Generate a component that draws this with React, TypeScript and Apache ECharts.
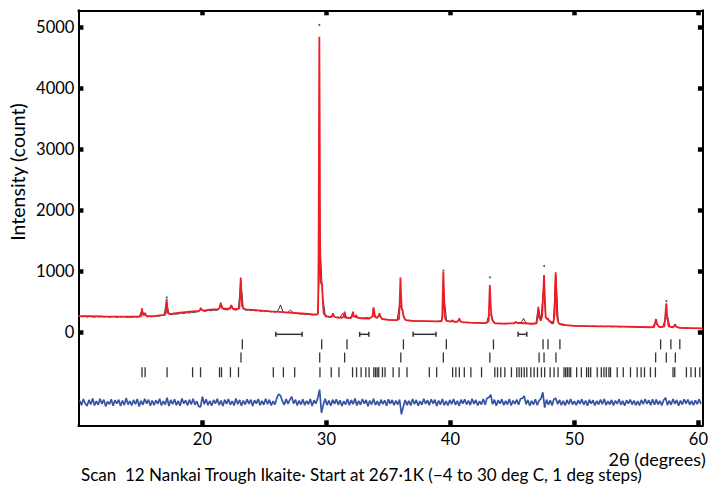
import React, { useEffect, useRef } from "react";
import * as echarts from "echarts";

// ---- axis ticks ----
const X_TICKS = [20, 30, 40, 50, 60];
const Y_TICKS = [0, 1000, 2000, 3000, 4000, 5000];

// ---- calculated profile (2θ, counts) ----
const calcProfile: number[][] = [
  [10.0, 268], [11, 265], [12, 262], [13, 260], [14, 258], [14.95, 258],
  [15.05, 265], [15.09, 330], [15.13, 394], [15.17, 320], [15.25, 280], [15.33, 300], [15.37, 322], [15.42, 285], [15.55, 265],
  [16.2, 272], [16.95, 288],
  [17.04, 310], [17.08, 430], [17.12, 545], [17.16, 430], [17.22, 320], [17.4, 300],
  [18.0, 320], [19.0, 340], [19.72, 352],
  [19.8, 365], [19.87, 404], [19.93, 372], [20.05, 358],
  [20.6, 372], [21.25, 383],
  [21.38, 395], [21.44, 455], [21.48, 486], [21.52, 445], [21.6, 395],
  [21.95, 388],
  [22.24, 392], [22.29, 430], [22.33, 449], [22.37, 425], [22.45, 390],
  [22.85, 383],
  [22.98, 395], [23.04, 640], [23.09, 900], [23.14, 640], [23.2, 430], [23.32, 388], [23.5, 378],
  [24.5, 362], [25.5, 345], [26.2, 337], [27.0, 325], [28.0, 310], [28.8, 298], [29.25, 292],
  [29.33, 320], [29.37, 1300], [29.41, 3900], [29.43, 4840], [29.46, 3400], [29.49, 1500], [29.53, 850], [29.58, 800], [29.65, 790], [29.71, 520], [29.78, 310], [29.95, 265],
  [30.4, 252],
  [30.48, 280], [30.53, 313], [30.58, 275], [30.7, 250],
  [31.25, 240],
  [31.4, 262], [31.47, 339], [31.53, 265], [31.68, 238],
  [31.98, 236],
  [32.08, 268], [32.14, 339], [32.2, 268], [32.3, 250], [32.37, 270], [32.41, 285], [32.47, 248],
  [32.8, 232], [33.45, 228],
  [33.72, 262], [33.77, 370], [33.8, 411], [33.84, 360], [33.92, 252], [34.1, 240],
  [34.22, 272], [34.28, 313], [34.34, 262], [34.5, 218],
  [35.0, 207], [35.65, 200],
  [35.86, 222], [35.92, 560], [35.97, 900], [36.02, 610], [36.08, 385], [36.14, 367], [36.22, 262], [36.4, 200],
  [37.0, 188], [38.0, 184], [39.0, 180], [39.28, 182],
  [39.34, 232], [39.39, 700], [39.43, 994], [39.48, 680], [39.54, 265], [39.65, 195],
  [40.05, 176], [40.13, 192], [40.18, 203], [40.23, 182],
  [40.55, 172], [40.66, 200], [40.72, 231], [40.78, 186], [40.9, 170],
  [41.5, 162], [42.2, 157], [42.85, 152],
  [43.08, 182], [43.14, 560], [43.18, 776], [43.23, 520], [43.29, 300], [43.38, 200], [43.6, 150],
  [44.3, 145], [45.12, 150], [45.22, 164], [45.27, 175], [45.33, 158],
  [46.0, 150], [46.6, 142], [46.95, 150],
  [47.02, 250], [47.09, 421], [47.15, 255], [47.28, 192], [47.4, 265], [47.5, 700], [47.55, 940], [47.6, 650], [47.68, 245], [47.8, 215], [47.87, 231], [47.93, 190],
  [48.3, 160],
  [48.4, 300], [48.45, 800], [48.49, 984], [48.54, 700], [48.6, 262], [48.66, 203], [48.75, 145],
  [49.3, 118], [50.0, 108], [51.0, 104], [52.0, 100], [53.0, 98], [54.0, 95], [55.0, 90], [56.0, 85], [56.42, 86],
  [56.52, 170], [56.58, 219], [56.64, 150], [56.8, 90],
  [57.25, 95], [57.34, 300], [57.41, 476], [57.47, 290], [57.6, 100],
  [57.95, 82], [58.09, 120], [58.13, 133], [58.18, 95],
  [58.5, 75], [59.3, 70], [60.36, 66],
];

// ---- observed counts, sampled every 0.2° from 10.1° ----
const OBS_START = 10.1;
const OBS_STEP = 0.2;
const observedCounts = [
  262, 255, 270, 250, 266, 258, 248, 263, 252, 259,
  250, 261, 247, 256, 263, 244, 258, 251, 260, 246,
  252, 245, 259, 248, 256, 350, 310, 258, 262, 255,
  262, 270, 265, 279, 276, 500, 300, 292, 303, 298,
  305, 318, 310, 322, 315, 330, 326, 335, 338, 390,
  345, 350, 362, 355, 368, 360, 372, 465, 375, 370,
  368, 437, 372, 365, 378, 840, 390, 362, 370, 358,
  365, 352, 360, 345, 356, 340, 348, 335, 342, 330,
  360, 450, 335, 322, 330, 365, 330, 318, 310, 302,
  305, 298, 296, 290, 285, 288, 300, 1350, 580, 290,
  258, 250, 295, 248, 240, 242, 310, 236, 238, 232,
  300, 255, 240, 235, 228, 232, 245, 225, 255, 290,
  232, 296, 222, 218, 210, 205, 202, 200, 198, 450,
  370, 215, 196, 190, 192, 186, 188, 182, 185, 180,
  184, 178, 182, 176, 180, 185, 195, 540, 190, 175,
  186, 172, 170, 220, 168, 165, 162, 166, 158, 160,
  155, 158, 150, 154, 148, 280, 290, 152, 146, 148,
  142, 146, 140, 148, 145, 150, 168, 152, 160, 228,
  150, 145, 140, 138, 150, 400, 200, 720, 235, 215,
  150, 140, 930, 160, 125, 118, 120, 112, 115, 108,
  110, 104, 108, 100, 106, 102, 98, 104, 100, 96,
  102, 98, 95, 100, 96, 92, 98, 94, 90, 96,
  92, 95, 88, 92, 86, 90, 84, 88, 85, 82,
  85, 80, 160, 125, 82, 88, 190, 260, 95, 80,
  128, 85, 76, 78, 72, 75, 70, 72, 68, 70,
  66, 68,
];
// isolated observed points standing above the calculated peak tops
const observedPeakTops: number[][] = [
  [17.12, 572], [29.43, 5032], [39.43, 1010], [43.18, 902], [47.55, 1087], [57.41, 514],
];

// ---- difference (obs − calc), sampled every 0.15° from 10.1° ----
const DIFF_START = 10.1;
const DIFF_STEP = 0.15;
const DIFF_OFFSET = -1145;
const differenceCounts = [
  30, -45, 55, -20, -60, 40, -35, 65, -50, 20,
  -40, 60, -25, 45, -65, 15, -30, 50, -55, 35,
  -20, 45, -60, 30, -45, 70, -35, 20, -50, 40,
  -30, 55, -65, 25, -40, 60, -20, 45, -55, 30,
  -45, 35, -25, 60, -50, 20, -35, 75, -60, 40,
  -30, 50, -45, 25, -55, 65, -20, 35, -50, 45,
  -35, 60, -40, 20, -65, -75, 95, -30, 50, -45,
  25, -55, 40, -20, 60, -45, 30, -60, 45, -25,
  55, -40, 20, -50, 65, -30, 40, -55, 30, -35,
  50, -25, 45, -60, 35, -20, 55, -45, 25, -40,
  60, -30, 45, -50, 20, -35, 70, 135, 110, 20,
  -40, 55, -25, 40, 95, -20, 45, -50, 30, -35,
  50, -45, 25, -30, 55, -60, 35, -20, 70, 210,
  -170, -40, 60, -45, 30, -55, 45, -25, 50, -40,
  35, -60, 20, -35, 55, -45, 40, -30, 65, -50,
  25, -40, 55, -20, 40, -65, 30, -35, 60, -45,
  20, -50, 45, -30, 35, -55, 50, -25, 40, -45,
  30, -35, 45, -195, -70, 40, -45, 25, -50, 55,
  -30, 40, -55, 20, -40, 60, -25, 35, -45, 50,
  -20, 45, -60, 30, -35, 55, -45, 20, -50, 40,
  -30, 55, -40, 25, -55, 45, -20, 50, -35, 30,
  -45, 60, -25, 40, -50, 20, -35, 55, -40, 70,
  80, 125, -30, 45, -55, 35, -20, 50, -45, 25,
  -35, 55, -50, 30, -25, 45, -40, 60, 65, 105,
  -30, 40, -55, 25, -35, 50, -45, 30, 60, 165,
  -85, 45, -40, 35, -50, 55, 65, -30, 40, -45,
  25, -50, 40, -30, 55, -35, 20, -45, 35, -25,
  50, -40, 30, -55, 45, -20, 35, -50, 25, -35,
  45, -30, 55, -45, 20, -35, 40, -50, 30, -25,
  50, -40, 25, -55, 35, -20, 45, -35, 30, -45,
  20, -50, 40, -30, 55, -25, 35, -45, 50, -40,
  45, -35, 25, -50, 40, 75, -45, 30, -40, 55,
  -25, 40, -55, 30, -35, 50, -20, 45, -40, 25,
  -45, 35, -30, 50, -25,
];

// ---- reflection markers (2θ) ----
const phase1Reflections = [23.22, 29.62, 31.66, 36.21, 39.67, 43.47, 47.47, 47.87, 48.83, 56.95, 57.78, 58.5];
const phase2Reflections = [23.11, 29.46, 31.47, 36.0, 39.43, 43.18, 47.15, 47.55, 48.51, 56.55, 57.41, 58.14];
const phase3Reflections = [
  15.13, 15.38, 17.15, 19.21, 19.85, 21.38, 21.54, 22.26, 22.91, 25.72, 26.53, 27.44, 29.48, 30.39, 31.01,
  32.11, 32.43, 32.8, 33.18, 33.44, 33.82, 33.96, 34.09, 34.22, 34.52, 34.73, 35.38, 35.86, 36.5,
  38.3, 38.89, 40.18, 40.44, 40.72, 41.12, 41.65, 42.51, 43.58, 43.8, 44.06, 44.39, 44.92, 45.35, 45.54,
  45.73, 45.95, 46.16, 46.48, 46.75, 47.02, 47.34, 47.6, 48.04, 48.36, 48.68, 49.16, 49.29, 49.43, 49.57,
  49.7, 50.18, 50.56, 50.98, 51.14, 51.31, 51.84, 52.17, 52.38, 52.57, 52.78, 52.91, 53.45, 53.94, 54.52,
  55.06, 55.38, 55.65, 56.13, 56.53, 57.95, 58.09, 59.03, 59.4, 59.75, 60.11,
];
const REFLECTION_ROWS = [-195, -411, -652];

// ---- excluded regions (start, end) ----
const excludedRegions: number[][] = [
  [25.92, 28.04], [32.68, 33.42], [36.99, 38.84], [45.46, 46.16],
];
const EXCLUDED_LEVEL = -31;

const FONT = "Lato, 'Noto Sans', sans-serif";

export default function App() {
  const ref = useRef<HTMLDivElement>(null);

  useEffect(() => {
    if (!ref.current) return;
    const chart = echarts.init(ref.current, null, { renderer: "svg" });

    const obsData = observedCounts.map((v, i) => [OBS_START + i * OBS_STEP, v]);
    const diffData = differenceCounts.map((v, i) => [DIFF_START + i * DIFF_STEP, DIFF_OFFSET + v]);

    const tickStyle = { show: true, inside: true, length: 5, lineStyle: { color: "#000", width: 4.5 } };
    const lineStyle = { show: true, onZero: false, lineStyle: { color: "#000", width: 2 } };
    const plain = (v: number) => String(v);

    const markerSeries = [phase1Reflections, phase2Reflections, phase3Reflections].map((arr, r) => ({
      type: "scatter",
      symbol: "rect",
      symbolSize: [1.3, 10],
      itemStyle: { color: "#000" },
      silent: true,
      data: arr.map((d) => [d, REFLECTION_ROWS[r]]),
      z: 3,
    }));

    const option: any = {
      animation: false,
      backgroundColor: "#fff",
      grid: { left: 78.4, top: 10.3, width: 626.1, height: 415, containLabel: false },
      xAxis: [
        {
          type: "value", min: 10, max: 60.36, position: "bottom",
          axisLine: lineStyle,
          axisTick: { ...tickStyle, customValues: X_TICKS },
          axisLabel: { customValues: X_TICKS, formatter: plain, color: "#000", fontFamily: FONT, fontSize: 16.5, margin: 5 },
          splitLine: { show: false },
        },
        {
          type: "value", min: 10, max: 60.36, position: "top",
          axisLine: lineStyle,
          axisTick: { ...tickStyle, customValues: X_TICKS },
          axisLabel: { show: false },
          splitLine: { show: false },
        },
      ],
      yAxis: [
        {
          type: "value", min: -1520, max: 5272, position: "left",
          axisLine: lineStyle,
          axisTick: { ...tickStyle, customValues: Y_TICKS },
          axisLabel: { customValues: Y_TICKS, formatter: plain, color: "#000", fontFamily: FONT, fontSize: 16.5, margin: 4 },
          splitLine: { show: false },
        },
        {
          type: "value", min: -1520, max: 5272, position: "right",
          axisLine: lineStyle,
          axisTick: { ...tickStyle, customValues: Y_TICKS },
          axisLabel: { show: false },
          splitLine: { show: false },
        },
      ],
      series: [
        {
          type: "line", name: "observed", data: obsData, showSymbol: false, silent: true,
          lineStyle: { color: "#222", width: 0.9 }, z: 2,
        },
        {
          type: "scatter", name: "observed tops", data: observedPeakTops, symbolSize: 2, silent: true,
          itemStyle: { color: "#333" }, z: 2,
        },
        {
          type: "line", name: "calculated", data: calcProfile, showSymbol: false, silent: true,
          lineStyle: { color: "#ee1c25", width: 1.8 }, z: 4,
        },
        {
          type: "line", name: "difference", data: diffData, showSymbol: false, silent: true,
          lineStyle: { color: "#3653a4", width: 1.7 }, z: 2,
        },
        ...markerSeries,
        {
          type: "custom", name: "excluded", silent: true, z: 3,
          data: excludedRegions.map(([a, b]) => [a, b, EXCLUDED_LEVEL]),
          encode: { x: [0, 1], y: 2 },
          renderItem: (params: any, api: any) => {
            const p0 = api.coord([api.value(0), api.value(2)]);
            const p1 = api.coord([api.value(1), api.value(2)]);
            const st = { stroke: "#333", lineWidth: 1.5 };
            return {
              type: "group",
              children: [
                { type: "line", shape: { x1: p0[0], y1: p0[1], x2: p1[0], y2: p1[1] }, style: st },
                { type: "line", shape: { x1: p0[0], y1: p0[1] - 2.5, x2: p0[0], y2: p0[1] + 2.5 }, style: st },
                { type: "line", shape: { x1: p1[0], y1: p1[1] - 2.5, x2: p1[0], y2: p1[1] + 2.5 }, style: st },
              ],
            };
          },
        },
      ],
      graphic: [
        {
          type: "text", x: 17, y: 172, rotation: Math.PI / 2,
          style: { text: "Intensity (count)", font: `19.5px ${FONT}`, fill: "#000", align: "center", verticalAlign: "middle", textAlign: "center", textVerticalAlign: "middle" },
        },
        {
          type: "text", right: 6, top: 450,
          style: { text: "2θ (degrees)", font: `18px ${FONT}`, fill: "#000" },
        },
        {
          type: "text", left: 81, top: 466,
          style: { text: "Scan  12 Nankai Trough Ikaite· Start at 267·1K (−4 to 30 deg C, 1 deg steps)", font: `17px ${FONT}`, fill: "#000" },
        },
      ],
    };

    chart.setOption(option);
    return () => chart.dispose();
  }, []);

  return (
    <div
      ref={ref}
      style={{ position: "fixed", left: 0, top: 0, width: 711, height: 490, background: "#fff" }}
    />
  );
}
